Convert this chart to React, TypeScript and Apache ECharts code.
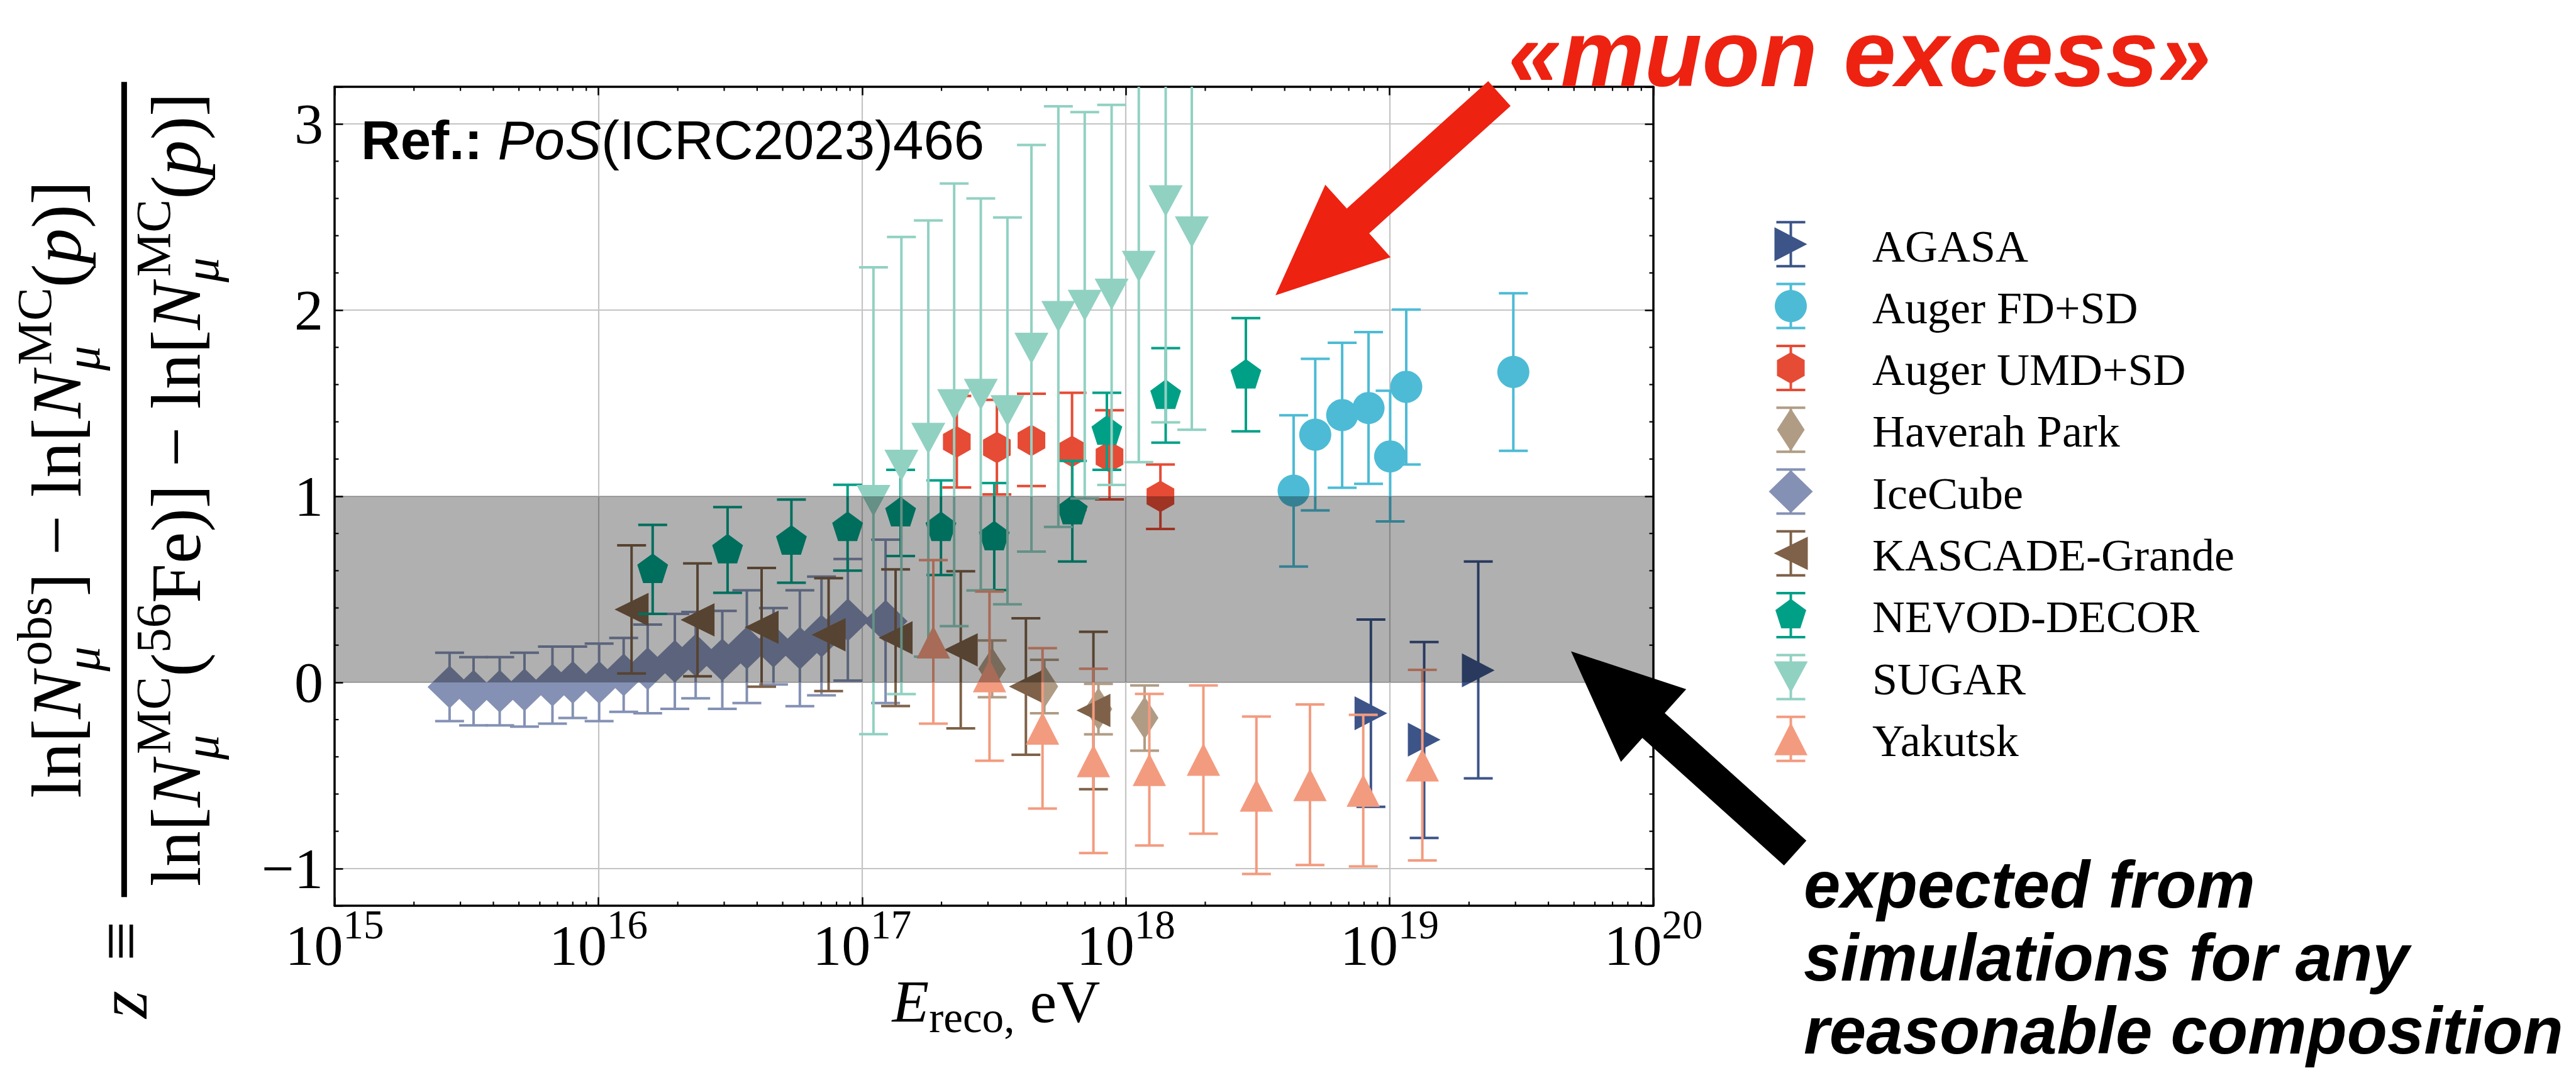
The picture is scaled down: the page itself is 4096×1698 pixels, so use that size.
import React, { useEffect, useRef } from "react";
import * as echarts from "echarts";

const W = 4096;
const H = 1698;

// ---------------- data (x = log10(E_reco / eV), z value, error low, error high) ----------------
const agasaLogE = [18.929, 19.131, 19.336];
const agasaZ = [-0.166, -0.308, 0.065];
const agasaLo = [-0.669, -0.836, -0.516];
const agasaHi = [0.338, 0.217, 0.649];

const augerFdLogE = [18.636, 18.718, 18.82, 18.92, 19.002, 19.063, 19.469];
const augerFdZ = [1.03, 1.331, 1.436, 1.474, 1.214, 1.588, 1.668];
const augerFdLo = [0.622, 0.924, 1.046, 1.067, 0.865, 1.171, 1.244];
const augerFdHi = [1.435, 1.738, 1.825, 1.882, 1.567, 2.003, 2.091];

const augerUmdLogE = [17.359, 17.511, 17.642, 17.796, 17.938, 18.131];
const augerUmdZ = [1.292, 1.262, 1.3, 1.241, 1.212, 0.999];
const augerUmdLo = [1.047, 1.01, 1.055, 0.926, 0.983, 0.824];
const augerUmdHi = [1.539, 1.518, 1.551, 1.556, 1.462, 1.171];

const haverahLogE = [17.493, 17.691, 17.896, 18.071];
const haverahZ = [0.072, -0.022, -0.143, -0.19];
const haverahLo = [-0.08, -0.166, -0.279, -0.367];
const haverahHi = [0.225, 0.121, -0.008, -0.016];

const icecubeLogE = [15.436, 15.527, 15.626, 15.72, 15.826, 15.903, 16.003, 16.096, 16.187, 16.29, 16.369, 16.47, 16.563, 16.664, 16.764, 16.846, 16.946, 17.089];
const icecubeZ = [-0.025, -0.048, -0.048, -0.04, -0.015, 0.0, 0.0, 0.04, 0.073, 0.113, 0.146, 0.121, 0.185, 0.194, 0.184, 0.249, 0.336, 0.328];
const icecubeLo = [-0.208, -0.231, -0.231, -0.238, -0.222, -0.191, -0.208, -0.158, -0.166, -0.142, -0.086, -0.142, -0.111, -0.011, -0.128, -0.07, 0.01, -0.111];
const icecubeHi = [0.159, 0.136, 0.136, 0.159, 0.192, 0.192, 0.208, 0.239, 0.311, 0.368, 0.378, 0.384, 0.495, 0.399, 0.495, 0.568, 0.663, 0.767];

const kascadeLogE = [16.126, 16.376, 16.619, 16.873, 17.127, 17.374, 17.621, 17.877];
const kascadeZ = [0.392, 0.336, 0.296, 0.256, 0.24, 0.175, -0.022, -0.151];
const kascadeLo = [0.048, 0.033, -0.023, -0.047, -0.127, -0.247, -0.389, -0.574];
const kascadeHi = [0.736, 0.639, 0.615, 0.56, 0.607, 0.597, 0.344, 0.272];

const nevodLogE = [16.206, 16.49, 16.732, 16.945, 17.146, 17.299, 17.501, 17.797, 17.928, 18.151, 18.455];
const nevodZ = [0.605, 0.71, 0.757, 0.83, 0.909, 0.83, 0.78, 0.92, 1.347, 1.54, 1.65];
const nevodLo = [0.368, 0.481, 0.535, 0.6, 0.679, 0.577, 0.496, 0.649, 1.142, 1.288, 1.349];
const nevodHi = [0.846, 0.942, 0.982, 1.062, 1.142, 1.085, 1.071, 1.19, 1.556, 1.796, 1.957];

const sugarLogE = [17.043, 17.149, 17.251, 17.349, 17.45, 17.551, 17.642, 17.744, 17.844, 17.946, 18.049, 18.151, 18.25];
const sugarZ = [0.976, 1.166, 1.31, 1.491, 1.547, 1.459, 1.794, 1.965, 2.025, 2.085, 2.234, 2.587, 2.419];
const sugarLo = [-0.278, -0.063, 0.138, 0.302, 0.494, 0.42, 0.703, 0.835, 0.988, 1.061, 1.183, 1.397, 1.357];
const sugarHi = [2.23, 2.393, 2.482, 2.68, 2.6, 2.498, 2.887, 3.095, 3.064, 3.103, 3.285, 3.777, 3.48];

const yakutskLogE = [17.27, 17.483, 17.684, 17.877, 18.089, 18.294, 18.495, 18.698, 18.9, 19.124];
const yakutskZ = [0.216, 0.034, -0.247, -0.422, -0.469, -0.414, -0.607, -0.55, -0.581, -0.445];
const yakutskLo = [-0.222, -0.421, -0.678, -0.917, -0.876, -0.813, -1.029, -0.981, -0.989, -0.957];
const yakutskHi = [0.657, 0.488, 0.184, 0.073, -0.062, -0.016, -0.184, -0.119, -0.174, 0.067];

// expected band from simulations
const bandLow = 0;
const bandHigh = 1;

// axes
const X_MIN = 1e15;
const X_MAX = 1e20;
const Y_MIN = -1.2;
const Y_MAX = 3.2;
const xMinorMultipliers = [2, 3, 4, 5, 6, 7, 8, 9];
const xDecades = [15, 16, 17, 18, 19];
const yMinorTicks = [-0.8, -0.6, -0.4, -0.2, 0.2, 0.4, 0.6, 0.8, 1.2, 1.4, 1.6, 1.8, 2.2, 2.4, 2.6, 2.8];

// ---------------- styles ----------------
const SERIF = "Liberation Serif, DejaVu Serif, serif";
const SANS = "Liberation Sans, Arial, Helvetica, sans-serif";
const C_SERIF = 0.3375;
const C_SANS = 0.3465;
const S = 0.831;

const GRID = { left: 532, top: 138, width: 2097, height: 1302 };
const ERR_LW = 4;
const CAP_HW = 23;
const MAJOR_LEN = 13.5;
const MINOR_LEN = 6.5;

const DIAMOND = [[0, -1], [1, 0], [0, 1], [-1, 0]];
const PENT = [[0, -1], [-0.951, -0.309], [-0.588, 0.809], [0.588, 0.809], [0.951, -0.309]];
const HEX = [[0, -1], [-0.866, -0.5], [-0.866, 0.5], [0, 1], [0.866, 0.5], [0.866, -0.5]];

const MARKERS: any = {
  triRight: { verts: [[1, 0], [-1, -1], [-1, 1]], size: [52, 54] },
  circle: { verts: null, size: [51, 51] },
  hexagon: { verts: HEX, size: [44, 50] },
  thinDiamond: { verts: DIAMOND, size: [44, 68] },
  diamond: { verts: DIAMOND, size: [70, 68] },
  triLeft: { verts: [[-1, 0], [1, -1], [1, 1]], size: [54, 53] },
  pentagon: { verts: PENT, size: [49, 47], offset: [0, -2.5] },
  triDown: { verts: [[-1, -1], [1, -1], [0, 1]], size: [54, 50] },
  triUp: { verts: [[0, -1], [1, 1], [-1, 1]], size: [53, 52] },
};

const DATASETS = [
  { name: "AGASA", color: "#3C5488", marker: "triRight", logE: agasaLogE, z: agasaZ, lo: agasaLo, hi: agasaHi },
  { name: "Auger FD+SD", color: "#4DBBD5", marker: "circle", logE: augerFdLogE, z: augerFdZ, lo: augerFdLo, hi: augerFdHi },
  { name: "Auger UMD+SD", color: "#E64B35", marker: "hexagon", logE: augerUmdLogE, z: augerUmdZ, lo: augerUmdLo, hi: augerUmdHi },
  { name: "Haverah Park", color: "#B09C85", marker: "thinDiamond", logE: haverahLogE, z: haverahZ, lo: haverahLo, hi: haverahHi },
  { name: "IceCube", color: "#8491B4", marker: "diamond", logE: icecubeLogE, z: icecubeZ, lo: icecubeLo, hi: icecubeHi },
  { name: "KASCADE-Grande", color: "#7E6148", marker: "triLeft", logE: kascadeLogE, z: kascadeZ, lo: kascadeLo, hi: kascadeHi },
  { name: "NEVOD-DECOR", color: "#00A087", marker: "pentagon", logE: nevodLogE, z: nevodZ, lo: nevodLo, hi: nevodHi },
  { name: "SUGAR", color: "#91D1C2", marker: "triDown", logE: sugarLogE, z: sugarZ, lo: sugarLo, hi: sugarHi },
  { name: "Yakutsk", color: "#F39B7F", marker: "triUp", logE: yakutskLogE, z: yakutskZ, lo: yakutskLo, hi: yakutskHi },
];

// ---------------- helpers ----------------
let _ctx: any = null;
function measure(t: string, size: number, it: boolean, b: boolean, fam: string) {
  if (!_ctx) _ctx = document.createElement("canvas").getContext("2d");
  _ctx.font = `${it ? "italic " : ""}${b ? "bold " : ""}${size}px ${fam}`;
  return _ctx.measureText(t).width;
}

type Tok = { t: string; s?: number; it?: boolean; b?: boolean; up?: number; stack?: boolean; kern?: number };

function layoutToks(toks: Tok[], F: number, fam: string) {
  const out: any[] = [];
  let x = 0;
  for (let i = 0; i < toks.length; i++) {
    const a = toks[i];
    const sa = F * (a.s ?? 1);
    const wa = measure(a.t, sa, !!a.it, !!a.b, fam);
    const ka = (a.kern ?? 0) * F;
    if (a.stack && i + 1 < toks.length) {
      const c = toks[i + 1];
      const sc = F * (c.s ?? 1);
      const wc = measure(c.t, sc, !!c.it, !!c.b, fam);
      const kc = (c.kern ?? 0) * F;
      out.push({ tok: a, x: x + ka, size: sa });
      out.push({ tok: c, x: x + kc, size: sc });
      x += Math.max(wa + ka, wc + kc);
      i++;
    } else {
      out.push({ tok: a, x: x + ka, size: sa });
      x += wa + ka;
    }
  }
  return { items: out, width: x };
}

function textEls(toks: Tok[], F: number, fam: string, central: number, x0: number, baseY: number, color: string, align: string, z = 200) {
  const { items, width } = layoutToks(toks, F, fam);
  const start = align === "center" ? x0 - width / 2 : x0;
  return items.map(({ tok, x, size }: any) => ({
    type: "text",
    x: start + x,
    y: baseY - (tok.up ?? 0) * F - central * size,
    z,
    silent: true,
    style: {
      text: tok.t,
      fontSize: size,
      fontFamily: fam,
      fontStyle: tok.it ? "italic" : "normal",
      fontWeight: tok.b ? "bold" : "normal",
      fill: color,
      align: "left",
      verticalAlign: "middle",
      textAlign: "left",
      textVerticalAlign: "middle",
    },
  }));
}

function fitVerts(verts: number[][], cx: number, cy: number, w: number, h: number) {
  const xs = verts.map((v) => v[0]);
  const ys = verts.map((v) => v[1]);
  const minx = Math.min(...xs), maxx = Math.max(...xs), miny = Math.min(...ys), maxy = Math.max(...ys);
  return verts.map(([x, y]) => [cx - w / 2 + ((x - minx) / (maxx - minx)) * w, cy - h / 2 + ((y - miny) / (maxy - miny)) * h]);
}

function symbolOf(m: any) {
  if (!m.verts) return "circle";
  return "path://M" + m.verts.map((v: number[]) => `${v[0]},${v[1]}`).join("L") + "Z";
}

function arrowPoints(tip: number[], tail: number[], headLen: number, headHalf: number, shaftHalf: number) {
  const dx = tail[0] - tip[0], dy = tail[1] - tip[1];
  const L = Math.hypot(dx, dy);
  const ux = dx / L, uy = dy / L;
  const px = -uy, py = ux;
  const bx = tip[0] + ux * headLen, by = tip[1] + uy * headLen;
  const pts = [
    tip,
    [bx + px * headHalf, by + py * headHalf],
    [bx + px * shaftHalf, by + py * shaftHalf],
    [tail[0] + px * shaftHalf, tail[1] + py * shaftHalf],
    [tail[0] - px * shaftHalf, tail[1] - py * shaftHalf],
    [bx - px * shaftHalf, by - py * shaftHalf],
    [bx - px * headHalf, by - py * headHalf],
  ];
  return pts.map((p) => [p[0] * S, p[1] * S]);
}

function errRender(color: string) {
  return (params: any, api: any) => {
    const x = api.value(0);
    const lo = api.value(2);
    const hi = api.value(3);
    const cs = params.coordSys;
    const top = cs.y, bot = cs.y + cs.height;
    const pLo = api.coord([x, lo]);
    const pHi = api.coord([x, hi]);
    const yLo = Math.min(pLo[1], bot);
    const yHi = Math.max(pHi[1], top);
    const st = { stroke: color, lineWidth: ERR_LW, fill: null };
    const children: any[] = [{ type: "line", shape: { x1: pLo[0], y1: yLo, x2: pLo[0], y2: yHi }, style: st }];
    if (pHi[1] >= top) children.push({ type: "line", shape: { x1: pHi[0] - CAP_HW, y1: pHi[1], x2: pHi[0] + CAP_HW, y2: pHi[1] }, style: st });
    if (pLo[1] <= bot) children.push({ type: "line", shape: { x1: pLo[0] - CAP_HW, y1: pLo[1], x2: pLo[0] + CAP_HW, y2: pLo[1] }, style: st });
    return { type: "group", children };
  };
}

// y-label tokens
const SUP = 0.42;
const SUB = -0.26;
const SS = 0.7;
const numTokens: Tok[] = [
  { t: "ln[" }, { t: "N", it: true },
  { t: "obs", s: SS, up: SUP, stack: true, kern: 0.08 }, { t: "μ", s: SS, it: true, up: SUB },
  { t: "] − ln[" }, { t: "N", it: true },
  { t: "MC", s: SS, up: SUP, stack: true, kern: 0.08 }, { t: "μ", s: SS, it: true, up: SUB },
  { t: "(" }, { t: "p", it: true }, { t: ")]" },
];
const denTokens: Tok[] = [
  { t: "ln[" }, { t: "N", it: true },
  { t: "MC", s: SS, up: SUP, stack: true, kern: 0.08 }, { t: "μ", s: SS, it: true, up: SUB },
  { t: "(" }, { t: "56", s: SS, up: SUP }, { t: "Fe)] − ln[" }, { t: "N", it: true },
  { t: "MC", s: SS, up: SUP, stack: true, kern: 0.08 }, { t: "μ", s: SS, it: true, up: SUB },
  { t: "(" }, { t: "p", it: true }, { t: ")]" },
];

function buildOption(): any {
  const series: any[] = [];

  DATASETS.forEach((d, i) => {
    const pts = d.logE.map((l, k) => [Math.pow(10, l), d.z[k], d.lo[k], d.hi[k]]);
    series.push({
      type: "custom",
      name: d.name + " errors",
      data: pts,
      encode: { x: 0, y: 1 },
      z: 3 + 2 * i,
      silent: true,
      renderItem: errRender(d.color),
    });
    const m = MARKERS[d.marker];
    series.push({
      type: "scatter",
      name: d.name,
      data: pts.map((p) => [p[0], p[1]]),
      symbol: symbolOf(m),
      symbolSize: m.size,
      symbolOffset: m.offset || [0, 0],
      itemStyle: { color: d.color, opacity: 1 },
      z: 4 + 2 * i,
      silent: true,
    });
  });

  // band (drawn over the markers, semi-transparent)
  series.push({
    type: "custom",
    name: "band",
    data: [[X_MIN, bandLow]],
    encode: { x: 0, y: 1 },
    z: 40,
    silent: true,
    renderItem: (params: any, api: any) => {
      const cs = params.coordSys;
      const p1 = api.coord([X_MIN, bandHigh]);
      const p2 = api.coord([X_MAX, bandLow]);
      return { type: "rect", shape: { x: cs.x, y: p1[1], width: cs.width, height: p2[1] - p1[1] }, style: { fill: "rgba(0,0,0,0.31)" } };
    },
  });

  // minor ticks
  const xMinor: number[][] = [];
  xDecades.forEach((d) => xMinorMultipliers.forEach((k) => xMinor.push([k * Math.pow(10, d), 0])));
  const tickStyle = { stroke: "#000", lineWidth: 2.2 };
  series.push({
    type: "custom",
    name: "xminor",
    data: xMinor,
    encode: { x: 0, y: 1 },
    z: 60,
    silent: true,
    renderItem: (params: any, api: any) => {
      const cs = params.coordSys;
      const x = api.coord([api.value(0), 0])[0];
      const b = cs.y + cs.height;
      return {
        type: "group",
        children: [
          { type: "line", shape: { x1: x, y1: b, x2: x, y2: b - MINOR_LEN }, style: tickStyle },
          { type: "line", shape: { x1: x, y1: cs.y, x2: x, y2: cs.y + MINOR_LEN }, style: tickStyle },
        ],
      };
    },
  });
  series.push({
    type: "custom",
    name: "yminor",
    data: yMinorTicks.map((v) => [X_MIN, v]),
    encode: { x: 0, y: 1 },
    z: 60,
    silent: true,
    renderItem: (params: any, api: any) => {
      const cs = params.coordSys;
      const y = api.coord([X_MIN, api.value(1)])[1];
      const r = cs.x + cs.width;
      return {
        type: "group",
        children: [
          { type: "line", shape: { x1: cs.x, y1: y, x2: cs.x + MINOR_LEN, y2: y }, style: tickStyle },
          { type: "line", shape: { x1: r, y1: y, x2: r - MINOR_LEN, y2: y }, style: tickStyle },
        ],
      };
    },
  });

  // ---------------- graphic ----------------
  const elements: any[] = [];

  // y-axis label (rotated fraction)
  const denW = layoutToks(denTokens, 100, SERIF).width;
  const F = (100 * 1262) / denW;
  const yl: any[] = [];
  yl.push(...textEls(numTokens, F, SERIF, C_SERIF, 0, -69.4, "#000", "center"));
  yl.push(...textEls(denTokens, F, SERIF, C_SERIF, 0, 119.8, "#000", "center"));
  yl.push({ type: "rect", shape: { x: -648, y: -4.5, width: 1296, height: 9 }, style: { fill: "#000" }, z: 200 });
  yl.push({
    type: "text", x: -717.8, y: 1.2 - 0.06 * F, z: 200,
    style: { text: "≡", fontSize: F, fontFamily: SERIF, fill: "#000", align: "center", verticalAlign: "middle", textAlign: "center", textVerticalAlign: "middle" },
  });
  yl.push({
    type: "text", x: -818.8, y: 9.1 - 0.1075 * F, z: 200,
    style: { text: "z", fontSize: F, fontStyle: "italic", fontFamily: SERIF, fill: "#000", align: "center", verticalAlign: "middle", textAlign: "center", textVerticalAlign: "middle" },
  });
  elements.push({ type: "group", x: 197.4, y: 778.2, rotation: Math.PI / 2, silent: true, children: yl });

  // x-axis label
  elements.push(...textEls([{ t: "E", it: true }, { t: "reco,", s: 0.72, up: -0.17 }, { t: " eV" }], 96, SERIF, C_SERIF, 1584, 1625, "#000", "center"));

  // reference note
  elements.push(...textEls([{ t: "Ref.:", b: true }, { t: " " }, { t: "PoS", it: true }, { t: "(ICRC2023)466" }], 87, SANS, C_SANS, 574, 253, "#000", "left"));

  // annotations
  elements.push(...textEls([{ t: "«muon excess»", b: true, it: true }], 150, SANS, C_SANS, 2398, 137, "#EE2211", "left"));
  const expLines = ["expected from", "simulations for any", "reasonable composition"];
  const expBase = [1443, 1559, 1675];
  expLines.forEach((t, i) => elements.push(...textEls([{ t, b: true, it: true }], 105, SANS, C_SANS, 2868, expBase[i], "#000", "left")));

  elements.push({ type: "polygon", z: 210, silent: true, shape: { points: arrowPoints([2440.5, 565], [2869, 179], 212.5, 93.4, 32) }, style: { fill: "#EE2211" } });
  elements.push({ type: "polygon", z: 210, silent: true, shape: { points: arrowPoints([3006, 1246], [3435, 1632], 212.5, 93.4, 32) }, style: { fill: "#000000" } });

  // legend
  const LEG_X = 2847.5, LEG_Y0 = 388.3, LEG_DY = 98.3, LEG_TX = 2977, LEG_ERR = 35;
  DATASETS.forEach((d, i) => {
    const cy = LEG_Y0 + i * LEG_DY;
    const st = { stroke: d.color, lineWidth: ERR_LW };
    elements.push({ type: "line", z: 200, silent: true, shape: { x1: LEG_X, y1: cy - LEG_ERR, x2: LEG_X, y2: cy + LEG_ERR }, style: st });
    elements.push({ type: "line", z: 200, silent: true, shape: { x1: LEG_X - CAP_HW, y1: cy - LEG_ERR, x2: LEG_X + CAP_HW, y2: cy - LEG_ERR }, style: st });
    elements.push({ type: "line", z: 200, silent: true, shape: { x1: LEG_X - CAP_HW, y1: cy + LEG_ERR, x2: LEG_X + CAP_HW, y2: cy + LEG_ERR }, style: st });
    const m = MARKERS[d.marker];
    if (!m.verts) {
      elements.push({ type: "circle", z: 201, silent: true, shape: { cx: LEG_X, cy, r: m.size[0] / 2 }, style: { fill: d.color } });
    } else {
      const off = m.offset ? m.offset[1] : 0;
      elements.push({ type: "polygon", z: 201, silent: true, shape: { points: fitVerts(m.verts, LEG_X, cy + off, m.size[0], m.size[1]) }, style: { fill: d.color } });
    }
    elements.push(...textEls([{ t: d.name }], 72, SERIF, C_SERIF, LEG_TX, cy + 27.5, "#000", "left"));
  });

  const axisLineStyle = { color: "#000", width: 3.5 };
  const majorTick = { show: true, inside: true, length: MAJOR_LEN, lineStyle: { color: "#000", width: 2.5 } };
  const xBase: any = {
    type: "log", logBase: 10, min: X_MIN, max: X_MAX, splitNumber: 5, gridIndex: 0,
    axisLine: { show: true, onZero: false, lineStyle: axisLineStyle },
    axisTick: majorTick,
    minorTick: { show: false },
    minorSplitLine: { show: false },
  };
  const yBase: any = {
    type: "value", min: Y_MIN, max: Y_MAX, minInterval: 1, maxInterval: 1, gridIndex: 0,
    axisLine: { show: true, onZero: false, lineStyle: axisLineStyle },
    axisTick: majorTick,
    minorTick: { show: false },
  };

  return {
    backgroundColor: "#ffffff",
    animation: false,
    grid: { left: GRID.left, top: GRID.top, width: GRID.width, height: GRID.height, containLabel: false, outerBoundsMode: "none" },
    xAxis: [
      {
        ...xBase,
        position: "bottom",
        splitLine: { show: true, lineStyle: { color: "#c4c4c4", width: 2.2 } },
        axisLabel: {
          show: true, margin: -3, showMinLabel: true, showMaxLabel: true, hideOverlap: false,
          formatter: (v: number) => `{b|10}{s|${Math.round(Math.log10(v))}}`,
          rich: {
            b: { fontFamily: SERIF, fontSize: 92, lineHeight: 112, verticalAlign: "bottom", color: "#000" },
            s: { fontFamily: SERIF, fontSize: 65, lineHeight: 65, verticalAlign: "top", color: "#000" },
          },
        },
      },
      { ...xBase, position: "top", splitLine: { show: false }, axisLabel: { show: false } },
    ],
    yAxis: [
      {
        ...yBase,
        position: "left",
        splitLine: { show: true, lineStyle: { color: "#c4c4c4", width: 2.2 } },
        axisLabel: {
          show: true, margin: 18, fontFamily: SERIF, fontSize: 92, color: "#000", hideOverlap: false,
          formatter: (v: number) => {
            if (Math.abs(v - Math.round(v)) > 1e-6) return "";
            const r = Math.round(v);
            return r < 0 ? "\u2212" + Math.abs(r) : String(r);
          },
        },
      },
      { ...yBase, position: "right", splitLine: { show: false }, axisLabel: { show: false } },
    ],
    series,
    graphic: { elements },
  };
}

export default function App() {
  const ref = useRef<HTMLDivElement>(null);
  useEffect(() => {
    if (!ref.current) return;
    const chart = echarts.init(ref.current, undefined, { renderer: "svg", width: W, height: H });
    chart.setOption(buildOption());
    return () => chart.dispose();
  }, []);
  return <div ref={ref} style={{ position: "fixed", left: 0, top: 0, width: W, height: H, background: "#fff" }} />;
}
